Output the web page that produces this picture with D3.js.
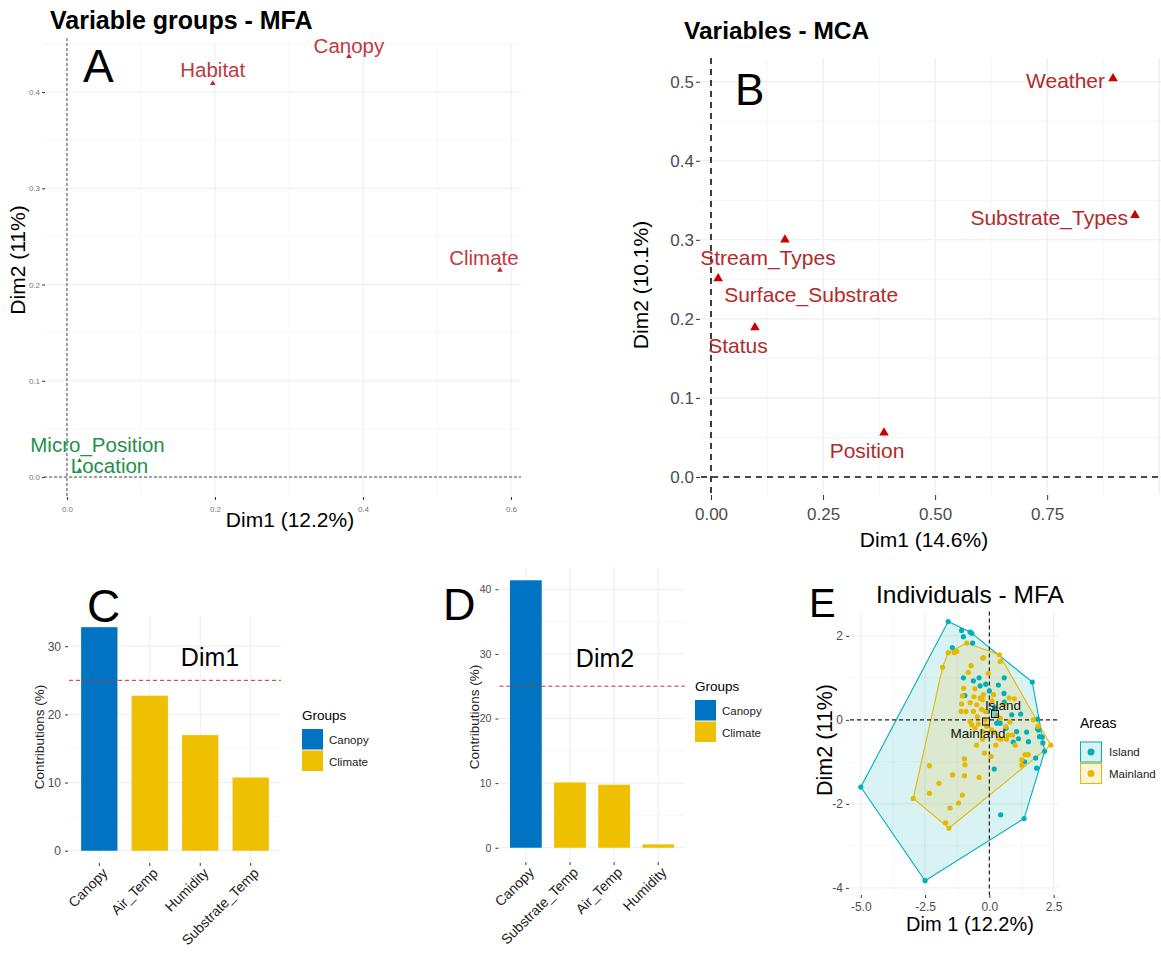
<!DOCTYPE html>
<html><head><meta charset="utf-8">
<script src="https://cdn.jsdelivr.net/npm/d3@7"></script>
<style>body{margin:0;background:#fff;} text{font-family:"Liberation Sans",Arial,sans-serif;}</style>
</head><body><svg id="c" width="1161" height="953"></svg>
<script>
// ---------------- DATA ----------------
// Panel A: variable groups (MFA)
const groupNames = ["Habitat","Canopy","Climate","Micro_Position","Location"];
const groupDim1 = [0.197,0.381,0.585,0.017,0.017];
const groupDim2 = [0.409,0.437,0.215,0.017,0.007];
const groupRole = ["active","active","active","supplementary","supplementary"];
const axisTicksA_x = [0.0,0.2,0.4,0.6];
const axisTicksA_y = [0.0,0.1,0.2,0.3,0.4];

// Panel B: variables (MCA)
const mcaVars = ["Weather","Substrate_Types","Stream_Types","Surface_Substrate","Status","Position"];
const mcaDim1 = [0.897,0.946,0.165,0.016,0.098,0.386];
const mcaDim2 = [0.504,0.331,0.300,0.251,0.189,0.056];
const axisTicksB_x = [0.00,0.25,0.50,0.75];
const axisTicksB_y = [0.0,0.1,0.2,0.3,0.4,0.5];

// Panel C: contributions Dim1
const contribCatsD1 = ["Canopy","Air_Temp","Humidity","Substrate_Temp"];
const contribValsD1 = [32.8,22.75,16.97,10.74];
const contribGrpD1 = ["Canopy","Climate","Climate","Climate"];
// Panel D: contributions Dim2
const contribCatsD2 = ["Canopy","Substrate_Temp","Air_Temp","Humidity"];
const contribValsD2 = [41.4,10.1,9.75,0.52];
const contribGrpD2 = ["Canopy","Climate","Climate","Climate"];
const expectedContrib = 25;
const groupLegend = ["Canopy","Climate"];

// Panel E: individuals
const islandDim1 = [-1.6,-5.0,-2.5,1.35,2.15,1.67,-1.08,-0.75,-1.01,-0.68,-0.65,-1.44,-1.01,-0.62,-0.40,-0.14,-0.36,0.0,0.35,0.57,0.58,-0.95,0.58,0.87,1.22,0.42,0.29,1.06,1.45,1.13,0.93,1.52,1.87,1.95,2.06,2.08,1.88,1.91,1.80,1.84,0.19,0.44,1.37,0.2,-0.1,0.65];
const islandDim2 = [2.34,-1.60,-3.83,-2.35,-0.75,0.90,2.13,2.09,1.98,2.06,1.83,1.72,1.0,0.93,1.0,0.85,0.81,0.69,0.83,0.63,1.0,0.58,0.42,0.12,0.14,-0.08,-0.08,-0.28,-0.29,-0.45,-0.53,-0.52,-0.21,-0.40,-0.41,-0.55,0.02,-0.24,-0.91,-1.15,-1.17,-2.26,-1.0,0.3,0.2,-0.2];
const mainlandDim1 = [-0.88,-1.6,-1.37,-1.82,-0.26,0.39,-0.71,0.42,-0.82,-0.04,-0.56,-1.05,-0.36,-0.27,-1.08,-0.75,-0.49,-0.91,-0.62,-0.47,-0.75,-0.43,-0.56,-0.26,-0.26,0.77,0.97,0.54,0.42,0.64,0.90,0.45,0.67,1.26,1.39,1.51,2.39,1.88,-0.19,0.07,-0.97,-0.95,-2.33,-0.97,-0.40,-1.43,-1.96,-2.33,-1.05,-2.96,-1.53,-1.2,-1.70,-1.57,0.09,-0.2,-0.1,0.2,0.3,-0.3,0.1,0.8,1.0,-0.6,-1.0,-0.15,0.25,1.26,-0.5,-1.27,-0.23,0.16,-1.10,-0.68,0.74,0.36,1.71,-0.23];
const mainlandDim2 = [1.83,1.6,1.6,1.25,1.47,1.55,1.29,1.39,1.13,1.11,0.74,0.57,0.52,0.48,0.38,0.41,0.36,0.20,0.20,0.08,-0.04,-0.10,-0.20,-0.28,-0.46,0.52,0.50,0.36,0.04,-0.16,-0.36,-0.46,-0.46,-1.08,-0.83,-0.83,-0.60,-0.16,-0.79,-0.87,-0.93,-1.07,-1.09,-1.33,-1.37,-1.31,-1.51,-1.75,-1.79,-1.87,-2.10,-1.98,-2.45,-2.58,-0.24,0.0,-0.15,-0.3,0.1,0.25,0.45,-0.05,-0.6,0.55,0.75,0.2,-0.6,-0.95,-0.6,1.63,0.60,0.60,0.20,-0.12,-0.36,-0.44,0.0,1.48];
const areaNames = ["Island","Mainland"];
const areaMeanDim1 = [0.22,-0.13];
const areaMeanDim2 = [0.14,-0.04];
const axisTicksE_x = [-5.0,-2.5,0.0,2.5];
const axisTicksE_y = [-4,-2,0,2];

// ---------------- STYLE ----------------
const svg = d3.select("#c");
svg.append("rect").attr("width",1161).attr("height",953).attr("fill","#fff");
const GRID = "#ebebeb", GRIDMINOR = "#f2f2f2", TICKTXT = "#4d4d4d";
const cBlue = "#0073C2", cYellow = "#EFC000";
const cIsland = "#00AFBB", cMain = "#E7B800";

function gridLines(g, x, y, xs, ys, color, w) {
  const [yb, yt] = y.range(), [xl, xr] = x.range();
  xs.forEach(v => g.append("line").attr("x1",x(v)).attr("x2",x(v)).attr("y1",yb).attr("y2",yt).attr("stroke",color).attr("stroke-width",w));
  ys.forEach(v => g.append("line").attr("x1",xl).attr("x2",xr).attr("y1",y(v)).attr("y2",y(v)).attr("stroke",color).attr("stroke-width",w));
}
function styleAxis(sel, size, color) {
  sel.select(".domain").remove();
  sel.selectAll(".tick line").attr("stroke","#333");
  sel.selectAll(".tick text").attr("fill",color).style("font-size",size+"px").style("font-family","'Liberation Sans',Arial,sans-serif");
}
function txt(x,y,s,size,opts={}) {
  const t = svg.append("text").attr("x",x).attr("y",y).text(s).style("font-size",size+"px")
    .attr("fill",opts.fill||"#000").attr("text-anchor",opts.anchor||"start");
  if (opts.bold) t.style("font-weight","bold");
  if (opts.rotate) t.attr("transform",`rotate(${opts.rotate},${x},${y})`);
  return t;
}

// ---------------- PANEL A ----------------
(function(){
  const x = d3.scaleLinear().domain([-0.031,0.6135]).range([44,521]);
  const y = d3.scaleLinear().domain([-0.0218,0.451]).range([498,43]);
  const g = svg.append("g");
  gridLines(g,x,y,[0.1,0.3,0.5],[0.05,0.15,0.25,0.35,0.45],GRIDMINOR,0.6);
  gridLines(g,x,y,axisTicksA_x,axisTicksA_y,GRID,0.9);
  g.append("line").attr("x1",x(0)).attr("x2",x(0)).attr("y1",38).attr("y2",y.range()[0]).attr("stroke","#222").attr("stroke-width",0.8).attr("stroke-dasharray","3,2");
  g.append("line").attr("x1",x.range()[0]).attr("x2",x.range()[1]).attr("y1",y(0)).attr("y2",y(0)).attr("stroke","#222").attr("stroke-width",0.8).attr("stroke-dasharray","3,2");
  const ax = g.append("g").attr("transform",`translate(0,${y.range()[0]-1})`).call(d3.axisBottom(x).tickValues(axisTicksA_x).tickFormat(d3.format(".1f")).tickSize(3).tickPadding(6));
  styleAxis(ax,8,"#777");
  const ay = g.append("g").attr("transform",`translate(${x.range()[0]+1},0)`).call(d3.axisLeft(y).tickValues(axisTicksA_y).tickFormat(d3.format(".1f")).tickSize(3).tickPadding(2));
  styleAxis(ay,8,"#777");
  const off = {Habitat:[0,-6,"middle"],Canopy:[0,-3,"middle"],Climate:[-16,-5,"middle"],Micro_Position:[18,-9,"middle"],Location:[30,3,"middle"]};
  groupNames.forEach((n,i)=>{
    const col = groupRole[i]==="active" ? "#c0282e" : "#1b8a3a";
    const lcol = groupRole[i]==="active" ? "#c0393f" : "#23904a";
    g.append("path").attr("d",d3.symbol(d3.symbolTriangle,groupRole[i]==="active"?14:10)())
      .attr("transform",`translate(${x(groupDim1[i])},${y(groupDim2[i])})`).attr("fill",col);
    g.append("text").attr("x",x(groupDim1[i])+off[n][0]).attr("y",y(groupDim2[i])+off[n][1])
      .attr("text-anchor",off[n][2]).attr("fill",lcol).style("font-size","20.5px").text(n);
  });
  txt(50,29,"Variable groups - MFA",25,{bold:true});
  txt(83,82,"A",46);
  txt(290,527,"Dim1 (12.2%)",21,{anchor:"middle"});
  txt(25,260,"Dim2 (11%)",21,{anchor:"middle",rotate:-90});
})();

// ---------------- PANEL B ----------------
(function(){
  const x = d3.scaleLinear().domain([-0.0223,1.004]).range([701,1161]);
  const y = d3.scaleLinear().domain([-0.0228,0.53]).range([495,58]);
  const g = svg.append("g");
  gridLines(g,x,y,[0.125,0.375,0.625,0.875],[0.05,0.15,0.25,0.35,0.45],GRIDMINOR,0.8);
  gridLines(g,x,y,axisTicksB_x.concat([1.0]),axisTicksB_y,GRID,1.1);
  g.append("line").attr("x1",x(0)).attr("x2",x(0)).attr("y1",y.range()[1]).attr("y2",y.range()[0]).attr("stroke","#111").attr("stroke-width",1.6).attr("stroke-dasharray","6,5");
  g.append("line").attr("x1",x.range()[0]).attr("x2",x.range()[1]).attr("y1",y(0)).attr("y2",y(0)).attr("stroke","#111").attr("stroke-width",1.6).attr("stroke-dasharray","6,5");
  const ax = g.append("g").attr("transform",`translate(0,${y.range()[0]})`).call(d3.axisBottom(x).tickValues(axisTicksB_x).tickFormat(d3.format(".2f")).tickSize(5).tickPadding(8));
  styleAxis(ax,17,TICKTXT);
  const ay = g.append("g").attr("transform",`translate(${x.range()[0]-1},0)`).call(d3.axisLeft(y).tickValues(axisTicksB_y).tickFormat(d3.format(".1f")).tickSize(4).tickPadding(2));
  styleAxis(ay,17,TICKTXT);
  const off = {Weather:[-8,9,"end"],Substrate_Types:[-7,10,"end"],Stream_Types:[-17,25,"middle"],Surface_Substrate:[6,23,"start"],Status:[-17,25,"middle"],Position:[-17,25,"middle"]};
  mcaVars.forEach((n,i)=>{
    g.append("path").attr("d",d3.symbol(d3.symbolTriangle,40)())
      .attr("transform",`translate(${x(mcaDim1[i])},${y(mcaDim2[i])})`).attr("fill","#cc0000");
    g.append("text").attr("x",x(mcaDim1[i])+off[n][0]).attr("y",y(mcaDim2[i])+off[n][1])
      .attr("text-anchor",off[n][2]).attr("fill","#b42a2a").style("font-size","21px").text(n);
  });
  txt(684,39,"Variables - MCA",24.5,{bold:true});
  txt(735,105,"B",44);
  txt(924,547,"Dim1 (14.6%)",21,{anchor:"middle"});
  txt(648,285,"Dim2 (10.1%)",21,{anchor:"middle",rotate:-90});
})();

// ---------------- PANELS C & D ----------------
function contribPanel(cats, vals, grps, xr, ydom, yr, opt) {
  const x = d3.scaleBand().domain(cats).range(xr).paddingInner(0.28).paddingOuter(0.24);
  const y = d3.scaleLinear().domain(ydom).range(yr);
  const g = svg.append("g");
  const xl = xr[0], xrr = xr[1];
  const minorY = [5,15,25,35].filter(v=>v<ydom[1]);
  minorY.forEach(v=>g.append("line").attr("x1",xl).attr("x2",xrr).attr("y1",y(v)).attr("y2",y(v)).attr("stroke",GRIDMINOR).attr("stroke-width",0.6));
  opt.ticks.forEach(v=>g.append("line").attr("x1",xl).attr("x2",xrr).attr("y1",y(v)).attr("y2",y(v)).attr("stroke",GRID).attr("stroke-width",0.9));
  cats.forEach(c=>g.append("line").attr("x1",x(c)+x.bandwidth()/2).attr("x2",x(c)+x.bandwidth()/2).attr("y1",yr[0]).attr("y2",yr[1]).attr("stroke",GRID).attr("stroke-width",0.9));
  g.selectAll("rect.bar").data(cats).enter().append("rect")
    .attr("x",c=>x(c)).attr("width",x.bandwidth())
    .attr("y",(c,i)=>y(vals[i])).attr("height",(c,i)=>y(0)-y(vals[i]))
    .attr("fill",(c,i)=>grps[i]==="Canopy"?cBlue:cYellow);
  g.append("line").attr("x1",xl).attr("x2",xrr).attr("y1",y(expectedContrib)).attr("y2",y(expectedContrib))
    .attr("stroke","#c0392b").attr("stroke-width",1).attr("stroke-dasharray","4,3");
  const ay = g.append("g").attr("transform",`translate(${xl-1},0)`).call(d3.axisLeft(y).tickValues(opt.ticks).tickSize(3).tickPadding(4));
  styleAxis(ay,opt.tickFont,TICKTXT);
  const ax = g.append("g").attr("transform",`translate(0,${yr[0]+1})`).call(d3.axisBottom(x).tickSize(3).tickFormat(""));
  styleAxis(ax,12,TICKTXT);
  cats.forEach(c=>{
    const cx = x(c)+x.bandwidth()/2+2, cy = yr[0]+5;
    g.append("text").attr("x",cx).attr("y",cy).attr("dy","0.72em").attr("text-anchor","end")
      .attr("transform",`rotate(-45,${cx},${cy})`).attr("fill","#222").style("font-size","14px").text(c);
  });
  // legend
  txt(opt.leg[0],opt.leg[1],"Groups",13.5);
  groupLegend.forEach((gname,i)=>{
    g.append("rect").attr("x",opt.leg[0]).attr("y",opt.leg[1]+9+i*21.5).attr("width",21).attr("height",20.5)
      .attr("fill",gname==="Canopy"?cBlue:cYellow);
    g.append("text").attr("x",opt.leg[0]+27).attr("y",opt.leg[1]+24+i*21.5).style("font-size","11.5px").attr("fill","#222").text(gname);
  });
  txt(opt.yt[0],opt.yt[1],"Contributions (%)",13.5,{anchor:"middle",rotate:-90,fill:"#222"});
}
contribPanel(contribCatsD1,contribValsD1,contribGrpD1,[69,281],[-1.64,34.44],[861.9,616],
  {ticks:[0,10,20,30],tickFont:12,leg:[302,720],yt:[44,737]});
contribPanel(contribCatsD2,contribValsD2,contribGrpD2,[499.4,684.7],[-2.07,43.5],[861.1,566.7],
  {ticks:[0,10,20,30,40],tickFont:10.5,leg:[695,691],yt:[479,717]});
txt(210,666,"Dim1",25,{anchor:"middle"});
txt(605,667,"Dim2",25,{anchor:"middle"});
txt(87,622,"C",46);
txt(443,620,"D",45);

// ---------------- PANEL E ----------------
(function(){
  const x = d3.scaleLinear().domain([-5.42,2.67]).range([850,1058]);
  const y = d3.scaleLinear().domain([-4.17,2.58]).range([895,611.5]);
  const g = svg.append("g");
  gridLines(g,x,y,[-3.75,-1.25,1.25],[-3,-1,1],GRIDMINOR,0.6);
  gridLines(g,x,y,axisTicksE_x,axisTicksE_y,GRID,0.9);
  const isl = islandDim1.map((v,i)=>[x(v),y(islandDim2[i])]);
  const mai = mainlandDim1.map((v,i)=>[x(v),y(mainlandDim2[i])]);
  [[isl,cIsland],[mai,cMain]].forEach(([pts,col])=>{
    const h = d3.polygonHull(pts);
    g.append("path").attr("d","M"+h.map(p=>p.join(",")).join("L")+"Z")
      .attr("fill",col).attr("fill-opacity",0.15).attr("stroke",col).attr("stroke-width",1.1);
  });
  g.append("line").attr("x1",x(0)).attr("x2",x(0)).attr("y1",y.range()[1]).attr("y2",y.range()[0]).attr("stroke","#222").attr("stroke-width",1.2).attr("stroke-dasharray","4,3");
  g.append("line").attr("x1",x.range()[0]).attr("x2",x.range()[1]).attr("y1",y(0)).attr("y2",y(0)).attr("stroke","#222").attr("stroke-width",1.2).attr("stroke-dasharray","4,3");
  isl.forEach(p=>g.append("circle").attr("cx",p[0]).attr("cy",p[1]).attr("r",2.6).attr("fill",cIsland));
  mai.forEach(p=>g.append("circle").attr("cx",p[0]).attr("cy",p[1]).attr("r",2.6).attr("fill",cMain));
  areaNames.forEach((n,i)=>{
    const px = x(areaMeanDim1[i]), py = y(areaMeanDim2[i]);
    g.append("rect").attr("x",px-3.5).attr("y",py-3.5).attr("width",7).attr("height",7)
      .attr("fill",i===0?cIsland:cMain).attr("fill-opacity",0.4).attr("stroke","#111").attr("stroke-width",1);
    g.append("text").attr("x",px+(i===0?8:-8)).attr("y",py+(i===0?-4:16)).attr("text-anchor","middle")
      .style("font-size","13.5px").attr("fill","#111").text(n);
  });
  const ax = g.append("g").attr("transform",`translate(0,${y.range()[0]})`).call(d3.axisBottom(x).tickValues(axisTicksE_x).tickFormat(d3.format(".1f")).tickSize(3).tickPadding(4));
  styleAxis(ax,12,TICKTXT);
  const ay = g.append("g").attr("transform",`translate(${x.range()[0]-1},0)`).call(d3.axisLeft(y).tickValues(axisTicksE_y).tickSize(3).tickPadding(3));
  styleAxis(ay,12,TICKTXT);
  ay.selectAll(".tick text").text(d=>d<0?"-"+Math.abs(d):d);
  ax.selectAll(".tick text").text(d=>(d<0?"-":"")+Math.abs(d).toFixed(1));
  // legend
  txt(1080,728,"Areas",14);
  areaNames.forEach((n,i)=>{
    const col = i===0?cIsland:cMain;
    g.append("rect").attr("x",1080.5).attr("y",742+i*21.5).attr("width",21).attr("height",20)
      .attr("fill",col).attr("fill-opacity",0.15).attr("stroke",col).attr("stroke-width",1);
    g.append("circle").attr("cx",1091).attr("cy",752+i*21.5).attr("r",3.5).attr("fill",col);
    g.append("text").attr("x",1109).attr("y",756+i*21.5).style("font-size","11.5px").attr("fill","#222").text(n);
  });
  txt(970,603,"Individuals - MFA",24.5,{anchor:"middle"});
  txt(809,617,"E",40);
  txt(970,931,"Dim 1 (12.2%)",20,{anchor:"middle"});
  txt(832,740,"Dim2 (11%)",21.5,{anchor:"middle",rotate:-90});
})();
</script></body></html>
